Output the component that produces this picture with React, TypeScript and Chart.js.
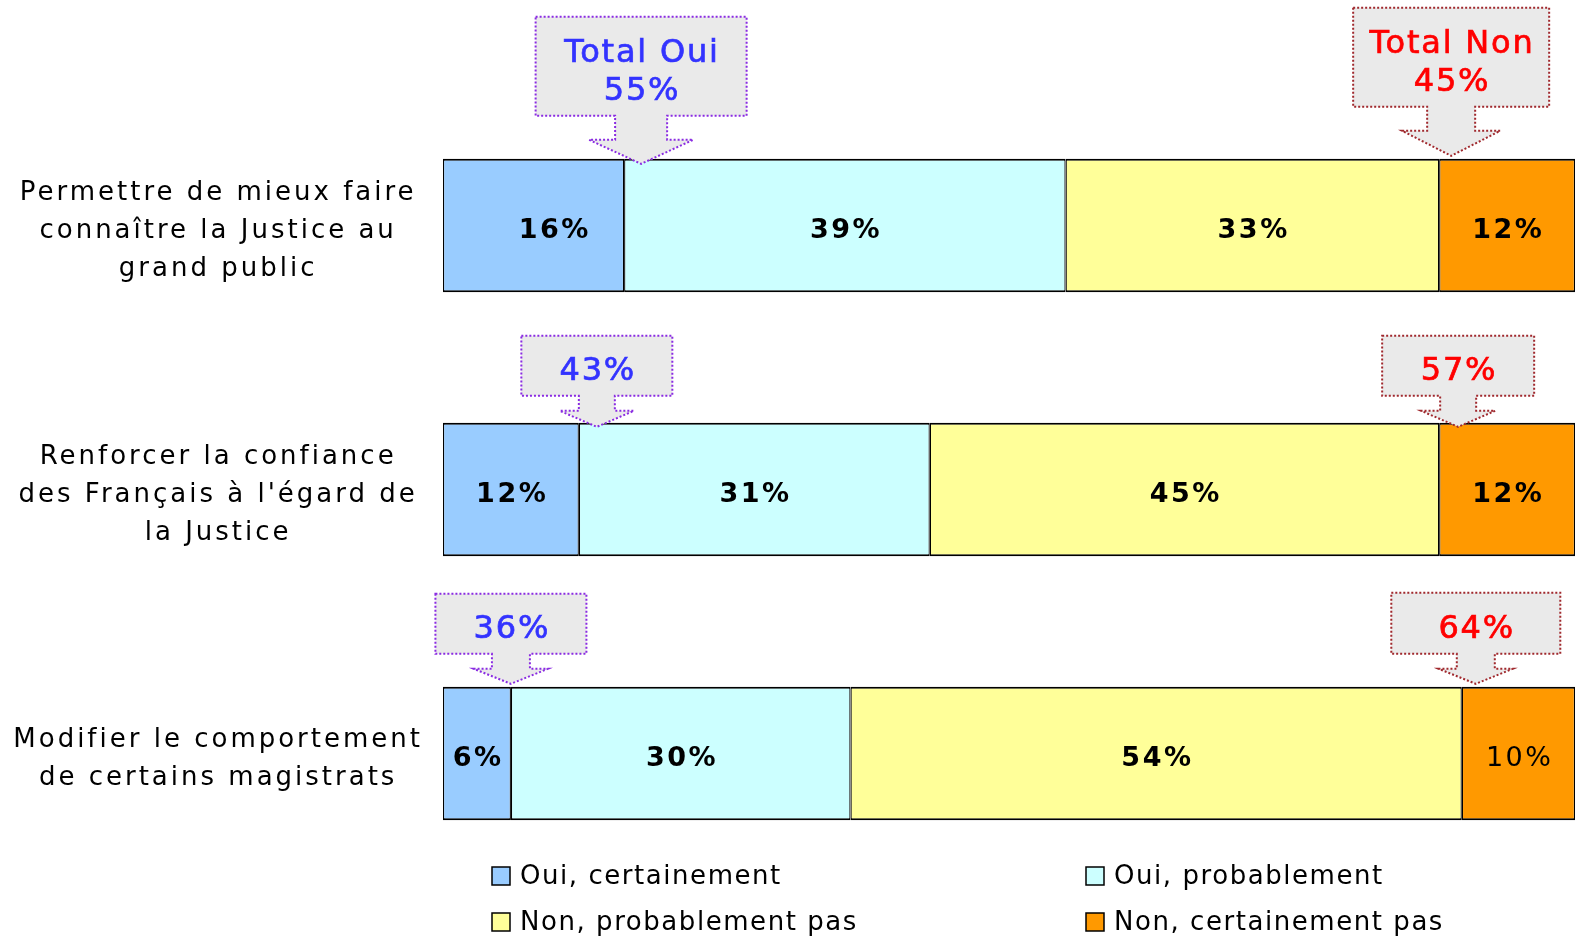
import React, { useEffect, useRef } from "react";
import { Chart, registerables } from "chart.js";

Chart.register(...registerables);

// ---------- DATA ----------
const CATEGORIES: string[][] = [
  ["Permettre de mieux faire", "connaître la Justice au", "grand public"],
  ["Renforcer la confiance", "des Français à l'égard de", "la Justice"],
  ["Modifier le comportement", "de certains magistrats"],
];
const SERIES_NAMES = [
  "Oui, certainement",
  "Oui, probablement",
  "Non, probablement pas",
  "Non, certainement pas",
];
const OUI_CERTAINEMENT = [16, 12, 6];
const OUI_PROBABLEMENT = [39, 31, 30];
const NON_PROBABLEMENT_PAS = [33, 45, 54];
const NON_CERTAINEMENT_PAS = [12, 12, 10];
const TOTAL_OUI_PREFIX = ["Total Oui", "", ""];
const TOTAL_NON_PREFIX = ["Total Non", "", ""];

// ---------- STYLE ----------
const FONT = "'DejaVu Sans', Verdana, sans-serif";
const COLORS = ["#99CCFF", "#CCFFFF", "#FFFF99", "#FF9900"];
const LABEL_BOLD = [
  [true, true, true, true],
  [true, true, true, true],
  [true, true, true, false],
];
const LABEL_DX = [
  [20, 0, 0, 0],
  [0, 0, 0, 0],
  [0, 0, 0, 0],
];
const CALLOUT = {
  oui: {
    w: [211, 151, 151], h: [99, 60, 60], dx: [17, 18, 0], dy: [5, 4, -3],
    stemHW: [26, 18, 19], stemLen: [24, 15, 15], wingHW: [52, 37, 37], head: [24, 16, 15],
    stroke: "#8a2be2", text: "#3333FF",
  },
  non: {
    w: [196, 152, 169], h: [99, 60, 61], dx: [12, 19, 14], dy: [-3, 4, -3],
    stemHW: [24, 18, 19], stemLen: [24, 15, 15], wingHW: [49, 37, 37], head: [25, 16, 15],
    stroke: "#a0282d", text: "#FF0000",
  },
};

function setSpacing(ctx: any, v: string) {
  try { ctx.letterSpacing = v; } catch (e) {}
}

function drawCallout(ctx: any, cfg: any, i: number, tipX: number, tipY: number, lines: string[]) {
  const cx = tipX;
  const ty = tipY + cfg.dy[i];
  const headBase = ty - cfg.head[i];
  const boxB = headBase - cfg.stemLen[i];
  const boxT = boxB - cfg.h[i];
  const L = cx - cfg.w[i] / 2;
  const R = cx + cfg.w[i] / 2;
  const sw = cfg.stemHW[i];
  const ww = cfg.wingHW[i];
  ctx.save();
  ctx.beginPath();
  ctx.moveTo(L, boxT);
  ctx.lineTo(R, boxT);
  ctx.lineTo(R, boxB);
  ctx.lineTo(cx + sw, boxB);
  ctx.lineTo(cx + sw, headBase);
  ctx.lineTo(cx + ww, headBase);
  ctx.lineTo(cx, ty);
  ctx.lineTo(cx - ww, headBase);
  ctx.lineTo(cx - sw, headBase);
  ctx.lineTo(cx - sw, boxB);
  ctx.lineTo(L, boxB);
  ctx.closePath();
  ctx.fillStyle = "#EAEAEA";
  ctx.fill();
  ctx.setLineDash([2, 2]);
  ctx.lineWidth = 2;
  ctx.strokeStyle = cfg.stroke;
  ctx.stroke();
  ctx.setLineDash([]);
  setSpacing(ctx, "1.8px");
  ctx.font = `32px ${FONT}`;
  ctx.fillStyle = cfg.text;
  ctx.strokeStyle = cfg.text;
  ctx.lineWidth = 0.7;
  ctx.textAlign = "center";
  ctx.textBaseline = "middle";
  const lh = 38;
  const mid = (boxT + boxB) / 2 + 6;
  lines.forEach((t, k) => {
    const yy = mid + (k - (lines.length - 1) / 2) * lh;
    ctx.fillText(t, cx + 0.9, yy);
    ctx.strokeText(t, cx + 0.9, yy);
  });
  ctx.restore();
}

const TICK_SPACING = "3px";

const overlayPlugin = {
  id: "overlay",
  beforeUpdate(chart: any) { setSpacing(chart.ctx, TICK_SPACING); },
  beforeLayout(chart: any) { setSpacing(chart.ctx, TICK_SPACING); },
  beforeDraw(chart: any) { setSpacing(chart.ctx, TICK_SPACING); },
  afterDatasetsDraw(chart: any) {
    const ctx = chart.ctx;
    // values inside bars
    chart.data.datasets.forEach((ds: any, di: number) => {
      const meta = chart.getDatasetMeta(di);
      meta.data.forEach((bar: any, i: number) => {
        const v = ds.data[i];
        const cx = (bar.x + bar.base) / 2 + LABEL_DX[i][di];
        ctx.save();
        setSpacing(ctx, "2.5px");
        ctx.font = `${LABEL_BOLD[i][di] ? "bold " : ""}27px ${FONT}`;
        ctx.fillStyle = "#000";
        ctx.textAlign = "center";
        ctx.textBaseline = "middle";
        ctx.fillText(`${v}%`, cx + 1.25, bar.y + 5);
        ctx.restore();
      });
    });
    // callouts
    const m0 = chart.getDatasetMeta(0);
    const m3 = chart.getDatasetMeta(3);
    CATEGORIES.forEach((_, i) => {
      const b0 = m0.data[i];
      const b3 = m3.data[i];
      const top = b0.y - b0.height / 2;
      const ouiTotal = OUI_CERTAINEMENT[i] + OUI_PROBABLEMENT[i];
      const nonTotal = NON_PROBABLEMENT_PAS[i] + NON_CERTAINEMENT_PAS[i];
      const ouiLines = TOTAL_OUI_PREFIX[i] ? [TOTAL_OUI_PREFIX[i], `${ouiTotal}%`] : [`${ouiTotal}%`];
      const nonLines = TOTAL_NON_PREFIX[i] ? [TOTAL_NON_PREFIX[i], `${nonTotal}%`] : [`${nonTotal}%`];
      drawCallout(ctx, CALLOUT.oui, i, b0.x + CALLOUT.oui.dx[i], top, ouiLines);
      drawCallout(ctx, CALLOUT.non, i, b3.base + CALLOUT.non.dx[i], top, nonLines);
    });
  },
  afterDraw(chart: any) {
    const ctx = chart.ctx;
    const left = chart.chartArea.left;
    const cols = [left + 49, left + 643];
    const rows = [876, 922];
    SERIES_NAMES.forEach((name, k) => {
      const x = cols[k % 2];
      const y = rows[Math.floor(k / 2)];
      ctx.save();
      ctx.fillStyle = COLORS[k];
      ctx.fillRect(x, y - 9, 18, 18);
      ctx.lineWidth = 1.5;
      ctx.strokeStyle = "#000";
      ctx.strokeRect(x, y - 9, 18, 18);
      setSpacing(ctx, "1.55px");
      ctx.font = `26px ${FONT}`;
      ctx.fillStyle = "#000";
      ctx.textAlign = "left";
      ctx.textBaseline = "middle";
      ctx.fillText(name, x + 28, y + 1);
      ctx.restore();
    });
  },
};

export default function App() {
  const ref = useRef<HTMLCanvasElement | null>(null);
  useEffect(() => {
    if (!ref.current) return;
    const values = [OUI_CERTAINEMENT, OUI_PROBABLEMENT, NON_PROBABLEMENT_PAS, NON_CERTAINEMENT_PAS];
    const chart = new Chart(ref.current, {
      type: "bar",
      data: {
        labels: CATEGORIES,
        datasets: values.map((d, k) => ({
          label: SERIES_NAMES[k],
          data: d,
          backgroundColor: COLORS[k],
          borderColor: "#000",
          borderWidth: { top: 2, bottom: 2, left: 1.25, right: 1.25 },
          borderSkipped: false,
          barPercentage: 1,
          categoryPercentage: 0.505,
        })),
      },
      options: {
        indexAxis: "y",
        animation: false,
        responsive: false,
        devicePixelRatio: 1,
        layout: { padding: { top: 93.5, bottom: 51.5, left: 0, right: 7 } },
        plugins: { legend: { display: false }, tooltip: { enabled: false } },
        scales: {
          x: { display: false, stacked: true, min: 0, max: 100 },
          y: {
            stacked: true,
            grid: { display: false, drawTicks: false },
            border: { display: false },
            ticks: {
              crossAlign: "center",
              padding: 20,
              labelOffset: 6,
              color: "#000",
              font: { family: FONT, size: 26, lineHeight: 1.46 },
            },
            afterFit: (s: any) => {
              s.width = 443;
              s.paddingTop = 0;
              s.paddingBottom = 0;
            },
          },
        },
      } as any,
      plugins: [overlayPlugin],
    });
    return () => chart.destroy();
  }, []);
  return (
    <div style={{ position: "absolute", left: 0, top: 0, width: 1582, height: 937, background: "#fff" }}>
      <canvas ref={ref} width={1582} height={937} style={{ display: "block" }} />
    </div>
  );
}
